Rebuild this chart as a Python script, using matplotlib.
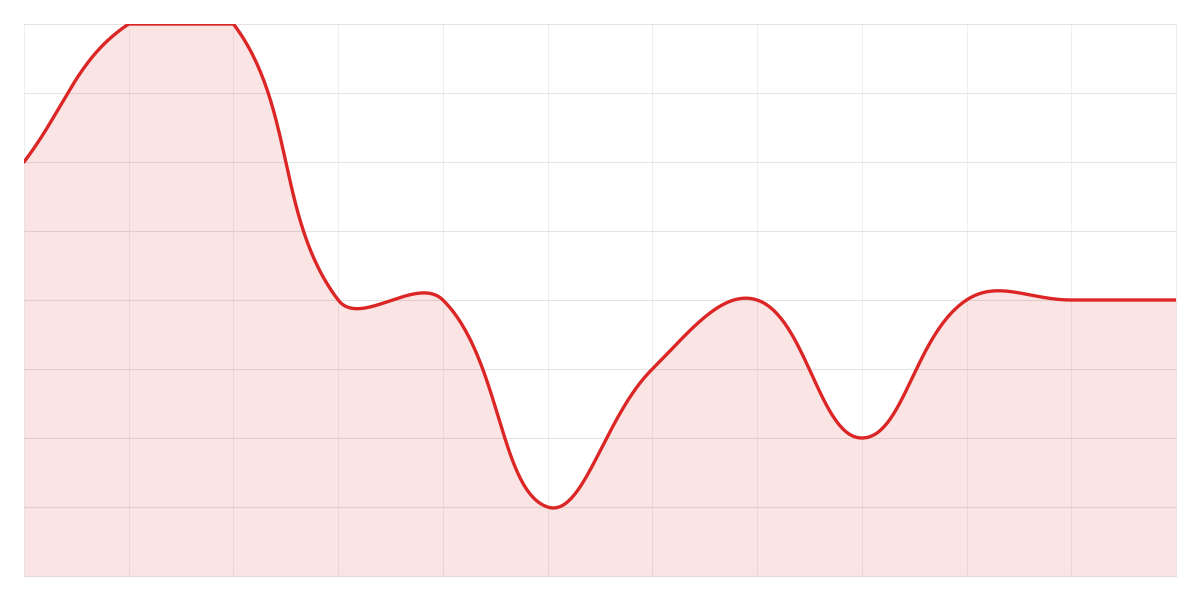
import numpy as np
import matplotlib
matplotlib.use('Agg')
from matplotlib import pyplot as plt

# values at each of the 12 category positions (y axis 0..8)
labels = ['1', '2', '3', '4', '5', '6', '7', '8', '9', '10', '11', '12']
values = [6, 8, 8, 4, 4, 1, 3, 4, 2, 4, 4, 4]
y_max = 8
tension = 0.4

W, H = 1200, 600
left, bottom, aw, ah = 24, 24, 1152, 552


def spline_points(vals):
    # chart.js style bezier control points, computed in pixel space
    n = len(vals)
    sx = aw / (n - 1)
    sy = ah / y_max
    px = np.arange(n) * sx
    py = np.array(vals, dtype=float) * sy
    ctrl_prev = []
    ctrl_next = []
    for i in range(n):
        p0 = (px[max(i - 1, 0)], py[max(i - 1, 0)])
        p1 = (px[i], py[i])
        p2 = (px[min(i + 1, n - 1)], py[min(i + 1, n - 1)])
        d01 = np.hypot(p1[0] - p0[0], p1[1] - p0[1])
        d12 = np.hypot(p2[0] - p1[0], p2[1] - p1[1])
        s01 = d01 / (d01 + d12) if d01 + d12 > 0 else 0
        s12 = d12 / (d01 + d12) if d01 + d12 > 0 else 0
        fa = tension * s01
        fb = tension * s12
        cp = [p1[0] - fa * (p2[0] - p0[0]), p1[1] - fa * (p2[1] - p0[1])]
        cn = [p1[0] + fb * (p2[0] - p0[0]), p1[1] + fb * (p2[1] - p0[1])]
        # cap to chart area
        for c in (cp, cn):
            c[0] = min(max(c[0], 0), aw)
            c[1] = min(max(c[1], 0), ah)
        ctrl_prev.append(cp)
        ctrl_next.append(cn)

    xs, ys = [], []
    t = np.linspace(0, 1, 60)
    for i in range(n - 1):
        a = np.array([px[i], py[i]])
        b = np.array(ctrl_next[i])
        c = np.array(ctrl_prev[i + 1])
        d = np.array([px[i + 1], py[i + 1]])
        pts = ((1 - t) ** 3)[:, None] * a + (3 * (1 - t) ** 2 * t)[:, None] * b + \
              (3 * (1 - t) * t ** 2)[:, None] * c + (t ** 3)[:, None] * d
        xs.extend(pts[:, 0])
        ys.extend(pts[:, 1])
    return np.array(xs) / sx, np.array(ys) / sy


fig = plt.figure(figsize=(W / 100, H / 100), dpi=100)
ax = fig.add_axes([left / W, bottom / H, aw / W, ah / H])

x_s, y_s = spline_points(values)
ax.fill_between(x_s, 0, y_s, color='#e02424', alpha=0.12, linewidth=0, zorder=2)
ax.plot(x_s, y_s, color='#dc2626', linewidth=2.4, zorder=3, solid_capstyle='round')

ax.set_xlim(0, len(values) - 1)
ax.set_ylim(0, y_max)
ax.set_xticks(range(len(values)))
ax.set_yticks(range(y_max + 1))
ax.tick_params(length=0, labelbottom=False, labelleft=False)
ax.xaxis.grid(True, color='#eeeeee', linewidth=0.8, zorder=1)
ax.yaxis.grid(True, color='#e4e4e4', linewidth=0.8, zorder=1)
for gl in ax.get_xgridlines() + ax.get_ygridlines():
    gl.set_clip_on(False)
ax.set_axisbelow(True)
for s in ax.spines.values():
    s.set_visible(False)

fig.savefig('out.png', dpi=100)
